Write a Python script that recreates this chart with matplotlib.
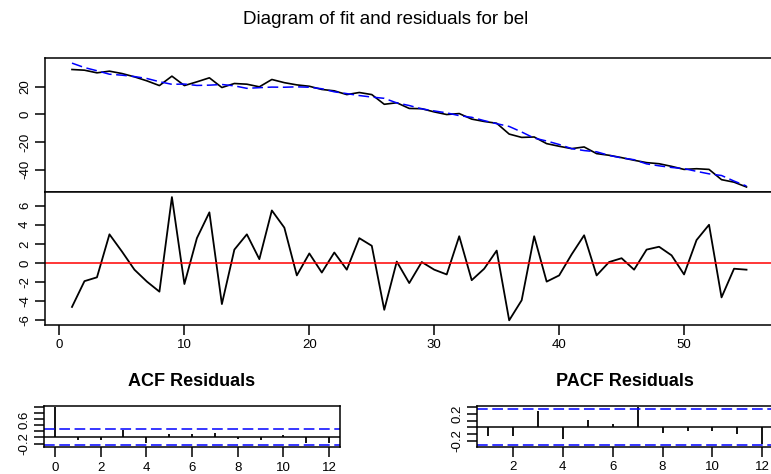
import matplotlib
matplotlib.use("Agg")
import matplotlib.pyplot as plt
import numpy as np

plt.rcParams['font.family'] = ['Liberation Sans', 'DejaVu Sans']
plt.rcParams['axes.unicode_minus'] = False

# observed series (black) and fitted values (blue dashed), t = 1..55
actual = [32.3, 31.8, 29.9, 31.1, 29.4, 27.0, 24.1, 20.7, 27.5, 20.7,
          23.4, 26.3, 19.3, 22.2, 21.7, 19.8, 25.1, 22.8, 21.2, 20.2,
          17.9, 16.9, 14.2, 15.7, 14.2, 7.2, 8.3, 4.2, 4.0, 1.7,
          -0.2, 0.5, -3.5, -5.2, -6.5, -14.3, -16.7, -16.4, -21.2, -23.1,
          -24.8, -23.6, -28.4, -29.6, -31.3, -33.2, -34.9, -35.7, -37.6, -39.8,
          -39.3, -39.8, -47.2, -49.0, -52.5]
fitted = [36.9, 33.7, 31.4, 28.9, 28.2, 27.2, 25.8, 23.5, 21.6, 21.8,
          20.8, 21.0, 21.5, 20.5, 18.7, 19.2, 19.6, 19.5, 19.8, 19.5,
          18.4, 16.2, 14.9, 13.5, 12.4, 11.5, 8.2, 6.3, 3.9, 2.4,
          1.0, -1.0, -2.2, -4.6, -6.8, -8.8, -12.8, -17.2, -19.3, -21.8,
          -24.8, -26.2, -27.1, -29.7, -31.5, -32.8, -35.8, -37.2, -38.4, -39.2,
          -41.2, -43.0, -44.2, -48.2, -51.8]
residuals = [-4.6, -1.9, -1.5, 3.0, 1.2, -0.7, -1.95, -3.0, 6.9, -2.2,
             2.6, 5.3, -4.3, 1.4, 3.0, 0.4, 5.5, 3.7, -1.3, 1.0,
             -1.0, 1.1, -0.7, 2.6, 1.8, -4.9, 0.15, -2.1, 0.1, -0.7,
             -1.2, 2.8, -1.8, -0.6, 1.3, -6.0, -3.9, 2.8, -1.95, -1.3,
             0.9, 2.9, -1.3, 0.1, 0.5, -0.7, 1.4, 1.7, 0.8, -1.2,
             2.4, 4.0, -3.6, -0.6, -0.7]
acf_vals = [1.0, -0.10, -0.10, 0.25, -0.19, 0.12, 0.12, 0.16, -0.04, -0.10, 0.07, -0.17, -0.19]
pacf_vals = [-0.13, -0.13, 0.24, -0.18, 0.11, 0.05, 0.30, -0.08, -0.05, -0.06, -0.10, -0.25]
conf = 0.264

t = np.arange(1, len(actual) + 1)
W, H = 771, 474
fig = plt.figure(figsize=(W / 100, H / 100), dpi=100)


def box(px_left, px_top, px_right, px_bottom):
    # axes placed in pixel coordinates of the image
    return fig.add_axes([px_left / W, 1 - px_bottom / H,
                         (px_right - px_left) / W, (px_bottom - px_top) / H])


def r_style(ax, fs=9.5):
    for s in ax.spines.values():
        s.set_linewidth(1.1)
    ax.tick_params(direction='out', length=7, width=1.1, labelsize=fs, colors='black')
    ax.tick_params(axis='y', labelrotation=90, pad=3)
    for lab in ax.get_yticklabels():
        lab.set_verticalalignment('center')


fig.text(0.5, 1 - 19 / H, "Diagram of fit and residuals for bel", ha='center', va='center', fontsize=13.5)

# fit panel
ax1 = box(45, 58, 773.5, 192)
ax1.plot(t, actual, color='black', lw=1.2)
ax1.plot(t, fitted, color='blue', lw=1.1, dashes=(7, 3))
ax1.set_xlim(-1.16, 57.16)
ax1.set_ylim(-56.1, 40.6)
ax1.set_yticks([-40, -20, 0, 20])
ax1.set_xticks([])
r_style(ax1)

# residual panel
ax2 = box(45, 192, 773.5, 325)
ax2.plot(t, residuals, color='black', lw=1.3)
ax2.axhline(0, color='red', lw=1.1)
ax2.set_xlim(-1.16, 57.16)
ax2.set_ylim(-6.49, 7.43)
ax2.set_yticks([-6, -4, -2, 0, 2, 4, 6])
ax2.set_xticks([0, 10, 20, 30, 40, 50])
r_style(ax2)
ax2.tick_params(axis='x', pad=3)

# ACF
ax3 = box(44, 405.7, 340, 447)
lags = np.arange(len(acf_vals))
ax3.vlines(lags, 0, acf_vals, color='black', lw=1.3)
ax3.axhline(0, color='black', lw=1.1)
ax3.axhline(conf, color='blue', lw=1.1, dashes=(7, 3))
ax3.axhline(-conf, color='blue', lw=1.1, dashes=(7, 3))
ax3.set_xlim(-0.48, 12.48)
ax3.set_ylim(-0.315, 1.05)
ax3.set_xticks(range(0, 13, 2))
ax3.set_yticks([-0.2, 0, 0.2, 0.4, 0.6, 0.8, 1.0])
ax3.set_yticklabels(['-0.2', '', '', '', '0.6', '', ''])
r_style(ax3)
ax3.set_title("ACF Residuals", fontsize=13, fontweight='bold', pad=14)

# PACF
ax4 = box(477, 405.7, 773.3, 446.7)
plags = np.arange(1, len(pacf_vals) + 1)
ax4.vlines(plags, 0, pacf_vals, color='black', lw=1.3)
ax4.axhline(0, color='black', lw=1.1)
ax4.axhline(conf, color='blue', lw=1.1, dashes=(7, 3))
ax4.axhline(-conf, color='blue', lw=1.1, dashes=(7, 3))
ax4.set_xlim(0.56, 12.44)
ax4.set_ylim(-0.287, 0.32)
ax4.set_xticks(range(2, 13, 2))
ax4.set_yticks([-0.2, -0.1, 0, 0.1, 0.2, 0.3])
ax4.set_yticklabels(['-0.2', '', '', '', '0.2', ''])
r_style(ax4)
ax4.set_title("PACF Residuals", fontsize=13, fontweight='bold', pad=14)

fig.savefig("out.png", dpi=100)
